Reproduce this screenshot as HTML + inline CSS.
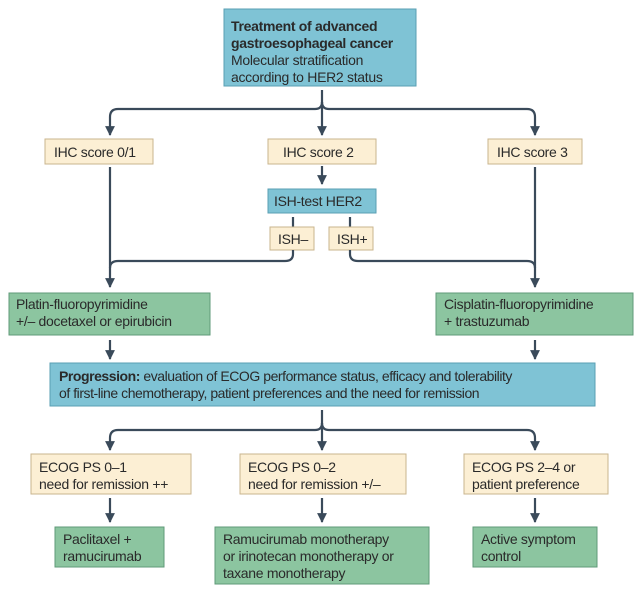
<!DOCTYPE html>
<html><head><meta charset="utf-8"><style>
body{margin:0;background:#fff;width:639px;height:594px;overflow:hidden}
text{font-family:"Liberation Sans",sans-serif;font-size:14px;fill:#2a2a2a;letter-spacing:-0.3px}
.b{font-weight:bold}
.bl{fill:#7fc3d5;stroke:#5a9fb3;stroke-width:1}
.cr{fill:#fcefd4;stroke:#c9b48e;stroke-width:1}
.gr{fill:#8cc5a0;stroke:#5f9a78;stroke-width:1}
.ln{fill:none;stroke:#3a4a5a;stroke-width:2.2}
</style></head><body>
<svg width="639" height="594" viewBox="0 0 639 594" xmlns="http://www.w3.org/2000/svg">
<defs><marker id="a" viewBox="0 0 10 10" refX="9" refY="5" markerWidth="4.5" markerHeight="4.5" orient="auto"><path d="M0,0 L10,5 L0,10 z" fill="#3a4a5a"/></marker></defs>
<!-- top -->
<rect class="bl" x="224" y="9" width="192" height="77"/>
<text x="231" y="31" class="b">Treatment of advanced</text>
<text x="231" y="48" class="b">gastroesophageal cancer</text>
<text x="231" y="65">Molecular stratification</text>
<text x="231" y="82">according to HER2 status</text>
<path class="ln" d="M322,90 V102 Q322,109 315,109 H118 Q110,109 110,117 V135" marker-end="url(#a)"/>
<path class="ln" d="M322,102 Q322,109 329,109 H527 Q535,109 535,117 V135" marker-end="url(#a)"/>
<path class="ln" d="M322,102 V135" marker-end="url(#a)"/>
<rect class="cr" x="45" y="139" width="108" height="25"/><text x="54" y="157">IHC score 0/1</text>
<rect class="cr" x="268" y="139" width="108" height="25"/><text x="283" y="157">IHC score 2</text>
<rect class="cr" x="488" y="139" width="94" height="25"/><text x="497" y="157">IHC score 3</text>
<path class="ln" d="M322,166 V184" marker-end="url(#a)"/>
<rect class="bl" x="268" y="189" width="108" height="24"/><text x="274" y="206">ISH-test HER2</text>
<path class="ln" d="M293,217 V227 M350,217 V227"/>
<rect class="cr" x="270" y="227" width="44" height="23"/><text x="278" y="244">ISH–</text>
<rect class="cr" x="329" y="227" width="44" height="23"/><text x="337" y="244">ISH+</text>
<path class="ln" d="M110,167 V287" marker-end="url(#a)"/>
<path class="ln" d="M535,167 V287" marker-end="url(#a)"/>
<path class="ln" d="M293,250 V254 Q293,261 285,261 H118 Q110,261 110,268"/>
<path class="ln" d="M350,250 V254 Q350,261 358,261 H527 Q535,261 535,268"/>
<rect class="gr" x="9" y="293" width="201" height="42"/>
<text x="16" y="309">Platin-fluoropyrimidine</text><text x="16" y="326">+/– docetaxel or epirubicin</text>
<rect class="gr" x="436" y="293" width="197" height="42"/>
<text x="444" y="309">Cisplatin-fluoropyrimidine</text><text x="444" y="326">+ trastuzumab</text>
<path class="ln" d="M110,340 V359" marker-end="url(#a)"/>
<path class="ln" d="M535,340 V359" marker-end="url(#a)"/>
<rect class="bl" x="50" y="363" width="545" height="43"/>
<text x="59" y="381" style="letter-spacing:-0.45px"><tspan class="b">Progression:</tspan> evaluation of ECOG performance status, efficacy and tolerability</text>
<text x="59" y="398" style="letter-spacing:-0.45px">of first-line chemotherapy, patient preferences and the need for remission</text>
<path class="ln" d="M322,410 V423 Q322,430 315,430 H118 Q110,430 110,438 V450" marker-end="url(#a)"/>
<path class="ln" d="M322,423 Q322,430 329,430 H527 Q535,430 535,438 V450" marker-end="url(#a)"/>
<path class="ln" d="M322,423 V450" marker-end="url(#a)"/>
<rect class="cr" x="31" y="454" width="160" height="40"/>
<text x="39" y="472">ECOG PS 0–1</text><text x="39" y="489">need for remission ++</text>
<rect class="cr" x="240" y="454" width="166" height="40"/>
<text x="248" y="472">ECOG PS 0–2</text><text x="248" y="489">need for remission +/–</text>
<rect class="cr" x="464" y="454" width="144" height="40"/>
<text x="472" y="472">ECOG PS 2–4 or</text><text x="472" y="489">patient preference</text>
<path class="ln" d="M110,498 V522" marker-end="url(#a)"/>
<path class="ln" d="M322,498 V522" marker-end="url(#a)"/>
<path class="ln" d="M535,498 V522" marker-end="url(#a)"/>
<rect class="gr" x="55" y="527" width="109" height="40"/>
<text x="63" y="544">Paclitaxel +</text><text x="63" y="561">ramucirumab</text>
<rect class="gr" x="215" y="527" width="214" height="57"/>
<text x="223" y="544">Ramucirumab monotherapy</text><text x="223" y="561">or irinotecan monotherapy or</text><text x="223" y="578">taxane monotherapy</text>
<rect class="gr" x="473" y="527" width="124" height="40"/>
<text x="481" y="544">Active symptom</text><text x="481" y="561">control</text>
</svg>
</body></html>
